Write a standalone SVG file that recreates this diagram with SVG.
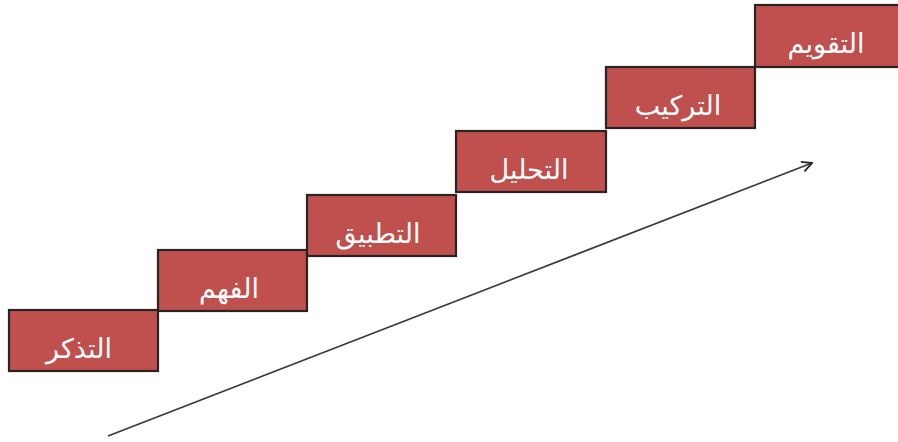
<svg xmlns="http://www.w3.org/2000/svg" width="898" height="442" viewBox="0 0 898 442">
<defs>
<style>
.box{fill:#C0504D;stroke:#2a2323;stroke-width:2.2}
.lbl{fill:#ffffff;font-family:"DejaVu Sans","Liberation Sans",sans-serif;font-size:27px;text-anchor:middle}
.conn{stroke:#3a3a3a;stroke-width:1.8;fill:none}
</style>
<marker id="arr" viewBox="0 0 12 12" refX="11" refY="6" markerWidth="12" markerHeight="12" markerUnits="userSpaceOnUse" orient="auto">
<path d="M1,1 L11,6 L1,11" fill="none" stroke="#222" stroke-width="1.8"/>
</marker>
</defs>
<rect width="898" height="442" fill="#ffffff"/>
<g id="connectors">
<line class="conn" x1="108" y1="436" x2="812" y2="163" marker-end="url(#arr)"/>
</g>
<g id="n1"><rect class="box" x="9" y="310" width="149" height="61"/><text class="lbl" x="79" y="358">التذكر</text></g>
<g id="n2"><rect class="box" x="158" y="250" width="149" height="61"/><text class="lbl" x="229" y="298">الفهم</text></g>
<g id="n3"><rect class="box" x="307" y="195" width="149" height="61"/><text class="lbl" x="378" y="243">التطبيق</text></g>
<g id="n4"><rect class="box" x="456" y="131" width="150" height="61"/><text class="lbl" x="529" y="179">التحليل</text></g>
<g id="n5"><rect class="box" x="606" y="67" width="149" height="61"/><text class="lbl" x="678" y="115">التركيب</text></g>
<g id="n6"><rect class="box" x="755" y="5" width="150" height="62"/><text class="lbl" x="826" y="53">التقويم</text></g>
</svg>
